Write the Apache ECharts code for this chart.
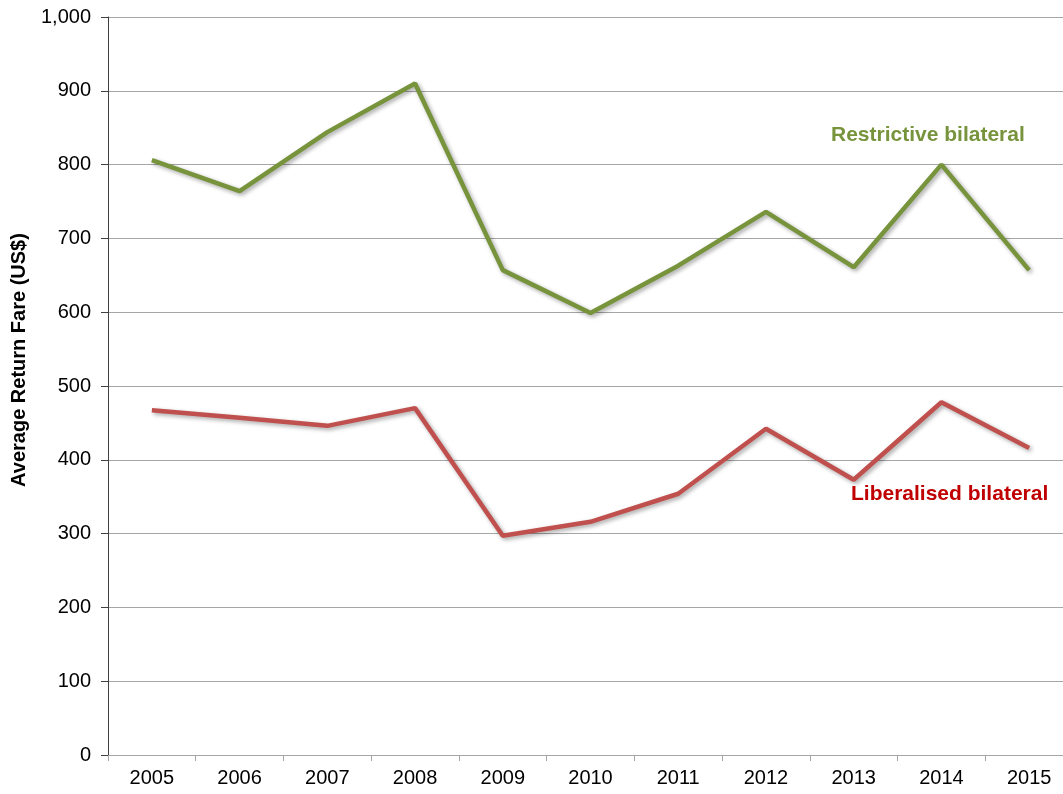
<!DOCTYPE html>
<html lang="en">
<head>
    <meta charset="UTF-8">
    <title>Average Return Fare</title>
    <script src="https://cdn.jsdelivr.net/npm/echarts@6/dist/echarts.min.js"></script>
</head>
<body style="margin:0;background:#fff">
    <div id="chart" style="width:1063px;height:794px;"></div>
<script type="text/javascript">
    // categories and values
    var years = ['2005','2006','2007','2008','2009','2010','2011','2012','2013','2014','2015'];
    var restrictive = [806, 764, 844, 910, 657, 599, 663, 736, 661, 800, 657];
    var liberalised = [467, 457, 446, 470, 297, 316, 354, 442, 373, 478, 416];

    var chart = echarts.init(document.getElementById('chart'));

    // common line style for both series
    function lineSeries(name, data, color){
        return {
            name: name,
            type: 'line',
            data: data,
            symbol: 'none',
            animation: false,
            lineStyle: {
                color: color,
                width: 4.5,
                shadowColor: 'rgba(0,0,0,0.35)',
                shadowBlur: 4,
                shadowOffsetX: 2,
                shadowOffsetY: 2
            }
        };
    }

    chart.setOption({
        animation: false,
        // the plot runs a little past the right edge, like the original
        grid: { left: 108, top: 17, width: 965, height: 738, outerBoundsMode: 'none', containLabel: false },
        xAxis: {
            type: 'category',
            data: years,
            boundaryGap: true,
            axisLine: { lineStyle: { color: '#a6a6a6', width: 1 } },
            axisTick: { show: true, length: 6, lineStyle: { color: '#a6a6a6' } },
            axisLabel: { color: '#000', fontSize: 20, fontFamily: 'Liberation Sans, Arial', margin: 13 }
        },
        yAxis: {
            type: 'value',
            min: 0, max: 1000, interval: 100,
            axisLine: { show: true, lineStyle: { color: '#404040', width: 1 } },
            axisTick: { show: true, length: 7, lineStyle: { color: '#404040' } },
            axisLabel: {
                color: '#000', fontSize: 20, fontFamily: 'Liberation Sans, Arial', margin: 17,
                formatter: function(v){ return v.toLocaleString('en-US'); }
            },
            splitLine: { lineStyle: { color: '#a6a6a6', width: 1 } }
        },
        series: [
            lineSeries('Restrictive bilateral', restrictive, '#77933c'),
            lineSeries('Liberalised bilateral', liberalised, '#c0504d')
        ],
        graphic: [
            { type: 'text', x: 19, y: 360, rotation: Math.PI / 2,
              style: { text: 'Average Return Fare (US$)', fill: '#000', align: 'center', verticalAlign: 'middle',
                       font: 'bold 20px Liberation Sans, Arial' } },
            { type: 'text', left: 831, top: 125,
              style: { text: 'Restrictive bilateral', fill: '#77933c', font: 'bold 21px Liberation Sans, Arial' } },
            { type: 'text', left: 851, top: 484,
              style: { text: 'Liberalised bilateral', fill: '#c00000', font: 'bold 21px Liberation Sans, Arial' } }
        ]
    });
</script>
</body>
</html>
